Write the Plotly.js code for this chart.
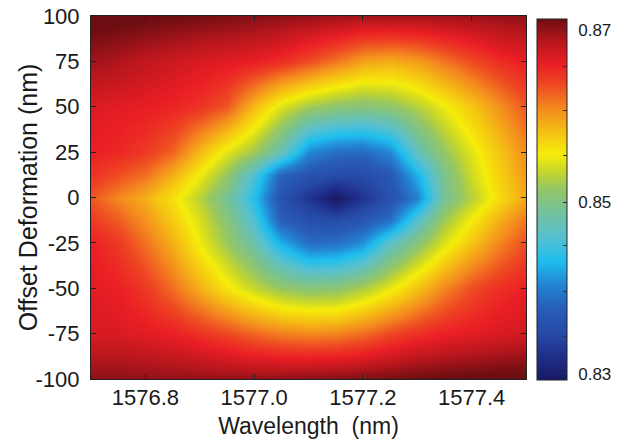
<!DOCTYPE html>
<html><head><meta charset="utf-8">
<script src="https://cdn.plot.ly/plotly-3.0.1.min.js"></script>
<style>html,body{margin:0;padding:0;background:#fff;}#chart{width:628px;height:441px;}</style>
</head><body><div id="chart"></div>
<script>
// Wavelength grid (nm)
const wavelength = [1576.70,1576.75,1576.80,1576.85,1576.90,1576.95,1577.00,1577.05,1577.10,1577.15,1577.20,1577.25,1577.30,1577.35,1577.40,1577.45,1577.50];
// Offset deformation grid (nm)
const offset = [-100,-75,-50,-25,-12.5,0,12.5,25,50,75,100];

// Values per offset row
const row_m100 = [0.8702,0.8702,0.8701,0.8700,0.8700,0.8700,0.8700,0.8702,0.8704,0.8706,0.8708,0.8711,0.8714,0.8716,0.8718,0.8719,0.8720];
const row_m75  = [0.8670,0.8670,0.8665,0.8660,0.8650,0.8638,0.8625,0.8615,0.8610,0.8612,0.8622,0.8638,0.8650,0.8660,0.8665,0.8670,0.8675];
const row_m50  = [0.8665,0.8660,0.8645,0.8620,0.8590,0.8560,0.8535,0.8515,0.8505,0.8508,0.8525,0.8550,0.8580,0.8610,0.8635,0.8650,0.8660];
const row_m25  = [0.8660,0.8645,0.8620,0.8590,0.8552,0.8518,0.8480,0.8425,0.8388,0.8390,0.8410,0.8465,0.8505,0.8545,0.8580,0.8610,0.8635];
const row_m12  = [0.8645,0.8628,0.8605,0.8575,0.8543,0.8505,0.8455,0.8375,0.8355,0.8350,0.8365,0.8390,0.8460,0.8520,0.8557,0.8590,0.8618];
const row_0    = [0.8630,0.8610,0.8590,0.8562,0.8530,0.8490,0.8435,0.8360,0.8325,0.8293,0.8325,0.8358,0.8400,0.8490,0.8530,0.8565,0.8595];
const row_p12  = [0.8648,0.8635,0.8620,0.8590,0.8553,0.8515,0.8455,0.8380,0.8360,0.8350,0.8350,0.8368,0.8425,0.8495,0.8540,0.8572,0.8602];
const row_p25  = [0.8660,0.8655,0.8645,0.8625,0.8585,0.8548,0.8520,0.8475,0.8405,0.8388,0.8385,0.8405,0.8470,0.8515,0.8548,0.8578,0.8608];
const row_p50  = [0.8668,0.8665,0.8662,0.8657,0.8648,0.8630,0.8585,0.8545,0.8520,0.8508,0.8503,0.8510,0.8528,0.8552,0.8578,0.8605,0.8630];
const row_p75  = [0.8695,0.8690,0.8682,0.8676,0.8670,0.8666,0.8662,0.8652,0.8636,0.8618,0.8598,0.8592,0.8600,0.8618,0.8636,0.8652,0.8662];
const row_p100 = [0.8722,0.8720,0.8717,0.8714,0.8711,0.8708,0.8705,0.8702,0.8699,0.8696,0.8694,0.8694,0.8694,0.8695,0.8697,0.8699,0.8701];

const xTicks = [1576.8,1577.0,1577.2,1577.4];
const xTickText = ['1576.8','1577.0','1577.2','1577.4'];
const yTicks = [-100,-75,-50,-25,0,25,50,75,100];
const yTickText = ['-100','-75','-50','-25','0','25','50','75','100'];
const cbTicks = [0.83,0.8344,0.8396,0.8449,0.85,0.8554,0.8606,0.8658,0.87];
const cbTickText = ['0.83','','','','0.85','','','','0.87'];

const z = [row_m100,row_m75,row_m50,row_m25,row_m12,row_0,row_p12,row_p25,row_p50,row_p75,row_p100];

const jet = [
  [0.000,'rgb(25,25,100)'],
  [0.060,'rgb(30,45,135)'],
  [0.125,'rgb(38,72,165)'],
  [0.200,'rgb(40,95,185)'],
  [0.260,'rgb(35,130,210)'],
  [0.330,'rgb(30,190,238)'],
  [0.400,'rgb(90,192,205)'],
  [0.470,'rgb(118,194,150)'],
  [0.530,'rgb(150,198,100)'],
  [0.580,'rgb(200,215,40)'],
  [0.625,'rgb(245,236,10)'],
  [0.690,'rgb(245,190,20)'],
  [0.750,'rgb(244,140,30)'],
  [0.820,'rgb(238,70,35)'],
  [0.875,'rgb(234,30,36)'],
  [0.940,'rgb(180,22,28)'],
  [1.000,'rgb(110,14,18)']
];

const FONT = 'Liberation Sans, Arial, Helvetica, sans-serif';
const PAD = '\u2009\u2009';
const trace = {
  type:'heatmap', x:wavelength, y:offset, z:z, zsmooth:'best',
  colorscale:jet, zmin:0.8293, zmax:0.8713, hoverinfo:'skip',
  colorbar:{
    x:1.0253, xanchor:'left', xpad:0, thickness:30, thicknessmode:'pixels',
    len:0.9945, lenmode:'fraction', y:0.4945, yanchor:'middle', ypad:0,
    outlinecolor:'#222', outlinewidth:1,
    tickmode:'array', tickvals:cbTicks, ticktext:cbTickText.map(t => t ? PAD + t : t),
    ticks:'inside', ticklen:4, tickcolor:'#333',
    tickfont:{family:FONT,size:17,color:'#1a1a1a'}
  }
};
const layout = {
  width:628, height:441,
  margin:{l:91,r:102,t:16,b:62,pad:0},
  paper_bgcolor:'#ffffff', plot_bgcolor:'#ffffff',
  font:{family:FONT,color:'#1a1a1a'},
  xaxis:{
    range:[1576.7,1577.5], tickmode:'array', tickvals:xTicks, ticktext:xTickText,
    ticks:'inside', ticklen:5, tickcolor:'#222', showline:true, linecolor:'#222', linewidth:1, mirror:'ticks',
    showgrid:false, zeroline:false, ticklabelstandoff:-1, tickfont:{family:FONT,size:22,color:'#1a1a1a'},
    title:{text:'Wavelength\u00a0 (nm)', font:{family:FONT,size:23,color:'#1a1a1a'}}
  },
  yaxis:{
    range:[-100,100], tickmode:'array', tickvals:yTicks, ticktext:yTickText,
    ticks:'inside', ticklen:5, tickcolor:'#222', showline:true, linecolor:'#222', linewidth:1, mirror:'ticks',
    showgrid:false, zeroline:false, ticklabelstandoff:6,
    tickfont:{family:FONT,size:22,color:'#1a1a1a'},
    title:{text:'Offset Deformation (nm)', font:{family:FONT,size:25,color:'#1a1a1a'}}
  },
  showlegend:false
};
Plotly.newPlot('chart',[trace],layout,{displayModeBar:false,staticPlot:true}).then(function(gd){
  // fine placement of the axis titles
  var yt = gd.querySelector('text.ytitle');
  if (yt) yt.setAttribute('transform', 'translate(6,0) ' + (yt.getAttribute('transform') || ''));
  var xt = gd.querySelector('text.xtitle');
  if (xt) xt.setAttribute('transform', 'translate(0,-2) ' + (xt.getAttribute('transform') || ''));
});
</script></body></html>
